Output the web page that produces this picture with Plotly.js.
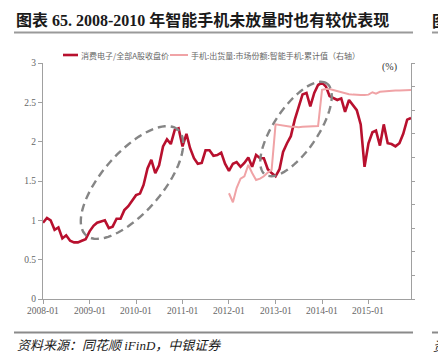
<!DOCTYPE html>
<html>
<head>
<meta charset="utf-8">
<script src="https://cdn.plot.ly/plotly-3.0.1.min.js"></script>
<style>html,body{margin:0;padding:0;background:#fff;}#chart{width:438px;height:364px;}</style>
</head>
<body>
<div id="chart"></div>
<script>
// ---- data ----
const redName = '消费电子/全部A股收盘价';
const pinkName = '手机:出货量:市场份额:智能手机:累计值（右轴）';
const redStart = [2008, 1];
const redValues = [
  0.97, 1.03, 1.00, 0.88, 0.91, 0.77, 0.81, 0.74, 0.72, 0.72, 0.74, 0.76,
  0.86, 0.93, 0.97, 0.99, 1.00, 0.90, 0.92, 1.02, 1.02, 1.13, 1.18, 1.25,
  1.32, 1.34, 1.45, 1.66, 1.77, 1.60, 1.70, 1.94, 2.03, 1.97, 2.15, 2.17,
  1.94, 2.10, 1.92, 1.79, 1.72, 1.73, 1.89, 1.89, 1.82, 1.83, 1.86, 1.72,
  1.63, 1.72, 1.74, 1.68, 1.73, 1.80, 1.68, 1.83, 1.79, 1.79, 1.65, 1.60,
  1.56, 1.65, 1.87, 1.98, 2.07, 2.28, 2.45, 2.60, 2.62, 2.45, 2.62, 2.72,
  2.75, 2.70, 2.58, 2.55, 2.53, 2.55, 2.38, 2.53, 2.46, 2.40, 2.22, 1.68,
  1.98, 2.12, 2.14, 1.95, 2.22, 1.98, 1.97, 1.94, 1.98, 2.10, 2.28, 2.30
];
const pinkStart = [2012, 1];
const pinkValues = [
  44.8, 41.0, 47.0, 51.0, 52.0, 56.8, 53.4, 50.4, 51.0, 52.0, 53.6, 54.7,
  74.0, 73.7, 73.5, 73.3, 73.0, 73.0, 72.8, 73.0, 73.0, 73.2, 73.3, 73.3,
  88.6, 89.0, 89.0, 88.5, 88.0, 87.5, 87.2, 86.8, 86.6, 86.4, 86.4, 86.4,
  86.6, 87.6, 87.0, 87.8, 88.0, 88.2, 88.3, 88.3, 88.4, 88.5, 88.6, 88.6
];
const xTickVals = ['2008-01-01', '2009-01-01', '2010-01-01', '2011-01-01', '2012-01-01', '2013-01-01', '2014-01-01', '2015-01-01'];
const xTickText = ['2008-01', '2009-01', '2010-01', '2011-01', '2012-01', '2013-01', '2014-01', '2015-01'];
const yTicks = [0, 0.5, 1, 1.5, 2, 2.5, 3];
const yTickText = ['0', '0.5', '1', '1.5', '2', '2.5', '3'];

function monthDates(start, n) {
  const out = [];
  for (let i = 0; i < n; i++) {
    const m = start[1] - 1 + i;
    const y = start[0] + Math.floor(m / 12);
    const mm = (m % 12) + 1;
    out.push(y + '-' + String(mm).padStart(2, '0') + '-01');
  }
  return out;
}

// ---- layout geometry ----
const W = 438, H = 364;
const mL = 43, mR = 27, mT = 63, mB = 65;
const pw = W - mL - mR, ph = H - mT - mB;
const px2x = p => (p - mL) / pw;
const py2y = p => (H - mB - p) / ph;

function ellipsePath(cx, cy, a, b, degTilt) {
  const th = degTilt * Math.PI / 180;
  let d = '';
  const N = 90;
  for (let i = 0; i <= N; i++) {
    const t = 2 * Math.PI * i / N;
    const x = cx + a * Math.cos(th) * Math.cos(t) - b * Math.sin(th) * Math.sin(t);
    const y = cy - (a * Math.sin(th) * Math.cos(t) + b * Math.cos(th) * Math.sin(t));
    d += (i === 0 ? 'M' : 'L') + px2x(x).toFixed(4) + ',' + py2y(y).toFixed(4);
  }
  return d + 'Z';
}

const redColor = '#B8102E', pinkColor = '#F0A3A6';
const traces = [
  {
    x: monthDates(redStart, redValues.length), y: redValues,
    type: 'scatter', mode: 'lines', name: redName,
    line: {color: redColor, width: 2.6}
  },
  {
    x: monthDates(pinkStart, pinkValues.length), y: pinkValues,
    type: 'scatter', mode: 'lines', name: pinkName, yaxis: 'y2',
    line: {color: pinkColor, width: 2}
  }
];

const axisColor = '#a0a0a0';
const tickFont = {family: 'Liberation Serif, serif', size: 9.5, color: '#666666'};
const legFont = {family: 'Noto Sans CJK SC', size: 8, color: '#666666'};
const legY = 55;

const xLabelAnns = xTickVals.map((v, i) => ({
  xref: 'x', yref: 'paper', x: v, y: py2y(311), xanchor: 'center', yanchor: 'middle',
  text: xTickText[i], showarrow: false, font: tickFont
}));

const layout = {
  width: W, height: H,
  margin: {l: mL, r: mR, t: mT, b: mB, pad: 0},
  paper_bgcolor: '#ffffff', plot_bgcolor: '#ffffff',
  showlegend: false,
  xaxis: {
    type: 'date', range: ['2008-01-01', '2015-12-01'],
    tickvals: xTickVals, ticktext: xTickText, showticklabels: false,
    showgrid: false, zeroline: false,
    showline: true, linecolor: axisColor, linewidth: 1,
    ticks: 'outside', ticklen: 4, tickcolor: axisColor
  },
  yaxis: {
    range: [0, 3], tickvals: yTicks, ticktext: yTickText,
    showgrid: false, zeroline: false,
    showline: true, linecolor: axisColor, linewidth: 1,
    ticks: 'outside', ticklen: 4, tickcolor: axisColor,
    tickfont: tickFont
  },
  yaxis2: {
    overlaying: 'y', side: 'right', range: [0, 100], dtick: 10,
    showgrid: false, zeroline: false, showticklabels: false,
    showline: true, linecolor: axisColor, linewidth: 1,
    ticks: 'outside', ticklen: 3, tickcolor: axisColor
  },
  shapes: [
    {type: 'path', xref: 'paper', yref: 'paper', path: ellipsePath(132, 182.5, 70, 30, 49),
     line: {color: '#858585', width: 2.4, dash: '8px,5px'}},
    {type: 'path', xref: 'paper', yref: 'paper', path: ellipsePath(296, 129, 55, 22, 56),
     line: {color: '#858585', width: 2.4, dash: '8px,5px'}},
    // legend samples
    {type: 'line', xref: 'paper', yref: 'paper', x0: px2x(63), x1: px2x(78), y0: py2y(legY), y1: py2y(legY),
     line: {color: redColor, width: 2.6}},
    {type: 'line', xref: 'paper', yref: 'paper', x0: px2x(170), x1: px2x(188), y0: py2y(legY), y1: py2y(legY),
     line: {color: pinkColor, width: 2}},
    // frame lines
    {type: 'line', xref: 'paper', yref: 'paper', x0: px2x(14), x1: px2x(413), y0: py2y(32.5), y1: py2y(32.5),
     line: {color: '#9a9a9a', width: 2}},
    {type: 'line', xref: 'paper', yref: 'paper', x0: px2x(432), x1: px2x(440), y0: py2y(32.5), y1: py2y(32.5),
     line: {color: '#9a9a9a', width: 2}},
    {type: 'line', xref: 'paper', yref: 'paper', x0: px2x(14), x1: px2x(413), y0: py2y(332.5), y1: py2y(332.5),
     line: {color: '#8a8a8a', width: 2}},
    {type: 'line', xref: 'paper', yref: 'paper', x0: px2x(432), x1: px2x(440), y0: py2y(332.5), y1: py2y(332.5),
     line: {color: '#8a8a8a', width: 2}}
  ],
  annotations: xLabelAnns.concat([
    {xref: 'paper', yref: 'paper', x: px2x(79), y: py2y(legY), xanchor: 'left', yanchor: 'middle',
     text: redName, showarrow: false, font: legFont},
    {xref: 'paper', yref: 'paper', x: px2x(189), y: py2y(legY), xanchor: 'left', yanchor: 'middle',
     text: pinkName, showarrow: false, font: legFont},
    {xref: 'paper', yref: 'paper', x: px2x(14), y: py2y(20), xanchor: 'left', yanchor: 'middle',
     text: '<b>图表 65. 2008-2010 年智能手机未放量时也有较优表现</b>', showarrow: false,
     font: {family: 'Liberation Serif, Noto Sans CJK SC', size: 16, color: '#1a1a1a'}},
    {xref: 'paper', yref: 'paper', x: px2x(430), y: py2y(20), xanchor: 'left', yanchor: 'middle',
     text: '<b>图</b>', showarrow: false,
     font: {family: 'Noto Sans CJK SC', size: 16, color: '#1a1a1a'}},
    {xref: 'paper', yref: 'paper', x: px2x(389), y: py2y(67), xanchor: 'center', yanchor: 'middle',
     text: '(%)', showarrow: false,
     font: {family: 'Liberation Serif, serif', size: 10, color: '#333333'}},
    {xref: 'paper', yref: 'paper', x: px2x(15), y: py2y(345), xanchor: 'left', yanchor: 'middle',
     text: '<i>资料来源：同花顺 iFinD，中银证券</i>', showarrow: false,
     font: {family: 'Liberation Serif, Noto Sans CJK SC', size: 13, color: '#1a1a1a'}},
    {xref: 'paper', yref: 'paper', x: px2x(431), y: py2y(345), xanchor: 'left', yanchor: 'middle',
     text: '<i>资</i>', showarrow: false,
     font: {family: 'Noto Sans CJK SC', size: 13, color: '#1a1a1a'}}
  ])
};

Plotly.newPlot('chart', traces, layout, {displayModeBar: false, staticPlot: true});
</script>
</body>
</html>
